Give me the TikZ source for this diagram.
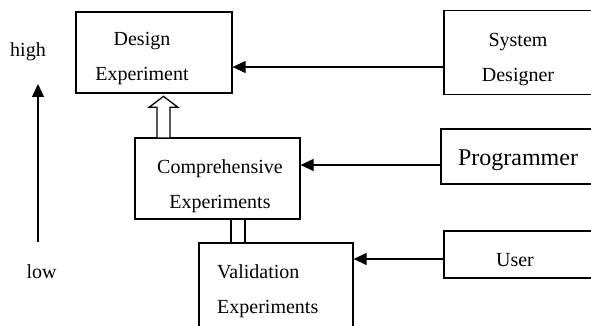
\documentclass[tikz,border=0pt]{standalone}
\usepackage{fontspec}
\setmainfont{Liberation Serif}
\usetikzlibrary{arrows.meta}
\tikzset{
	box/.style={draw, line width=1.3pt, inner sep=0pt},
	lbl/.style={inner sep=0pt, font=\fontsize{20}{35}\selectfont},
	arr/.style={line width=1.3pt, -{Triangle[length=13pt,width=12pt]}}
}
\begin{document}
\begin{tikzpicture}[x=1pt,y=-1pt]
		\clip (0,0) rectangle (591,326);

		% boxes
		\node[box, minimum width=156pt, minimum height=81pt] (design) at (154,52.5) {};
		\node[box, minimum width=165pt, minimum height=81pt] (comp) at (217.5,178.5) {};
		\node[box, minimum width=154pt, minimum height=102pt] (valid) at (276,294) {};
		\node[box, minimum width=176pt, minimum height=84pt] (sysdes) at (532,52.5) {};
		\node[box, minimum width=179pt, minimum height=55pt] (prog) at (530.5,156.5) {};
		\node[box, minimum width=176pt, minimum height=47pt] (user) at (532,254.5) {};

		% texts
		\node[lbl, align=center] (designtxt) at (142,59) {Design\\Experiment};
		\node[lbl, align=center] (comptxt) at (220,186) {Comprehensive\\Experiments};
		\node[lbl, align=left, anchor=west] (validtxt) at (217,291) {Validation\\Experiments};
		\node[lbl, align=center] (sysdestxt) at (518,60) {System\\Designer};
		\node[lbl, anchor=base, font=\fontsize{24}{28}\selectfont] (progtxt) at (518,165) {Programmer};
		\node[lbl, anchor=base] (usertxt) at (515,266) {User};
		\node[lbl, anchor=base] (high) at (28,57) {high};
		\node[lbl, anchor=base] (low) at (41.5,278) {low};

		% arrows
		\draw[arr] ([yshift=-14.5pt]sysdes.west) -- ([yshift=-14.5pt]design.east);
		\draw[arr] ([yshift=-8.5pt]prog.west) -- ([yshift=13.5pt]comp.east);
		\draw[arr] ([yshift=-4.5pt]user.west) -- ([yshift=35pt]valid.east);

		% hollow arrow up
		\draw[line width=1.3pt, fill=white] ([xshift=-60.5pt]comp.north) -- ++(0,-30) -- ++(-8,0)
			-- ++(14.5,-11) -- ++(14.5,11) -- ++(-8,0) -- ++(0,30);

		% double line
		\foreach \dx in {13.5, 27.5}{
				\draw[line width=1.3pt] ([xshift=\dx pt]comp.south) -- ([xshift=\dx pt]valid.north -| comp.south);
			}

		% high / low
		\coordinate (bot) at (38,242);
		\coordinate (top) at (38,84);
		\draw[arr] (bot) -- (top);
	\end{tikzpicture}
\end{document}
